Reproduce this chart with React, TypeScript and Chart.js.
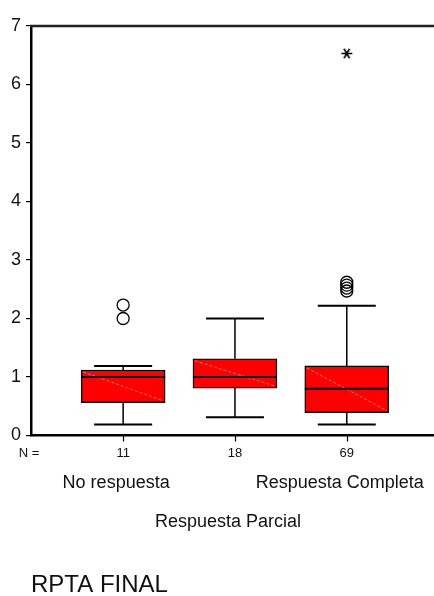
import React, { useEffect, useRef } from "react";
import { Chart, registerables } from "chart.js";

Chart.register(...registerables);

// Groups of RPTA FINAL and the number of cases in each
const groups = ["No respuesta", "Respuesta Parcial", "Respuesta Completa"];
const counts = [11, 18, 69];

// Five-number summaries per group
const whiskerLow = [0.19, 0.31, 0.19];
const q1 = [0.56, 0.81, 0.39];
const median = [1.0, 1.0, 0.8];
const q3 = [1.12, 1.31, 1.19];
const whiskerHigh = [1.19, 2.0, 2.22];

// Outliers (circles) and extreme values (asterisks)
const outliers = [[2.0, 2.23], [], [2.47, 2.52, 2.57, 2.62]];
const extremes = [[], [], [6.53]];

const yTicks = [0, 1, 2, 3, 4, 5, 6, 7];
const axisTitle = "RPTA FINAL";

const FONT = '"Liberation Sans", Arial, sans-serif';
const NARROW = '"Liberation Sans Narrow", "Liberation Sans", Arial, sans-serif';

function asteriskImage(): HTMLCanvasElement {
  const c = document.createElement("canvas");
  c.width = 13;
  c.height = 13;
  const g = c.getContext("2d")!;
  g.strokeStyle = "#000";
  g.lineWidth = 1.6;
  const r = 5.5;
  g.beginPath();
  for (const a of [0, Math.PI / 3, (2 * Math.PI) / 3]) {
    g.moveTo(6.5 - r * Math.cos(a), 6.5 - r * Math.sin(a));
    g.lineTo(6.5 + r * Math.cos(a), 6.5 + r * Math.sin(a));
  }
  g.stroke();
  return c;
}

const boxExtras = {
  id: "boxExtras",
  beforeDatasetsDraw(chart: any) {
    const { ctx, scales } = chart;
    const x = scales.x;
    const y = scales.y;
    ctx.save();
    ctx.strokeStyle = "#000";
    groups.forEach((_, i) => {
      const px = x.getPixelForValue(i + 1);
      ctx.lineWidth = 1.5;
      ctx.beginPath();
      ctx.moveTo(px, y.getPixelForValue(whiskerLow[i]));
      ctx.lineTo(px, y.getPixelForValue(q1[i]));
      ctx.moveTo(px, y.getPixelForValue(q3[i]));
      ctx.lineTo(px, y.getPixelForValue(whiskerHigh[i]));
      ctx.stroke();
      ctx.lineWidth = 2;
      ctx.beginPath();
      for (const v of [whiskerLow[i], whiskerHigh[i]]) {
        const py = y.getPixelForValue(v);
        ctx.moveTo(px - 29, py);
        ctx.lineTo(px + 29, py);
      }
      ctx.stroke();
    });
    ctx.restore();
  },
  afterDatasetsDraw(chart: any) {
    const { ctx, scales } = chart;
    const y = scales.y;
    const bars = chart.getDatasetMeta(0).data;
    ctx.save();
    bars.forEach((bar: any, i: number) => {
      const left = bar.x - bar.width / 2;
      const right = bar.x + bar.width / 2;
      const top = Math.min(bar.y, bar.base);
      const bottom = Math.max(bar.y, bar.base);
      // faint diagonal sheen across the box
      ctx.strokeStyle = "rgba(255,140,140,0.8)";
      ctx.lineWidth = 1;
      ctx.setLineDash([3, 2]);
      ctx.beginPath();
      ctx.moveTo(left + 2, top + 2);
      ctx.lineTo(right - 2, bottom - 2);
      ctx.stroke();
      ctx.setLineDash([]);
      // median
      ctx.strokeStyle = "#000";
      ctx.lineWidth = 2;
      const my = y.getPixelForValue(median[i]);
      ctx.beginPath();
      ctx.moveTo(left, my);
      ctx.lineTo(right, my);
      ctx.stroke();
    });
    ctx.restore();
  },
  afterDraw(chart: any) {
    const { ctx, chartArea, scales } = chart;
    const x = scales.x;
    ctx.save();
    // top frame line
    ctx.strokeStyle = "#222";
    ctx.lineWidth = 2.5;
    ctx.beginPath();
    ctx.moveTo(chartArea.left - 1, chartArea.top);
    ctx.lineTo(chartArea.right, chartArea.top);
    ctx.stroke();

    // category tick marks under the axis
    ctx.strokeStyle = "#000";
    ctx.lineWidth = 1.2;
    ctx.beginPath();
    groups.forEach((_, i) => {
      const px = Math.round(x.getPixelForValue(i + 1)) + 0.5;
      ctx.moveTo(px, chartArea.bottom);
      ctx.lineTo(px, chartArea.bottom + 6);
    });
    ctx.stroke();

    ctx.fillStyle = "#111";
    ctx.textBaseline = "middle";
    ctx.textAlign = "center";
    ctx.font = `13px ${NARROW}`;
    ctx.fillText("N =", 29, 453);
    counts.forEach((n, i) => {
      ctx.fillText(String(n), x.getPixelForValue(i + 1), 453);
    });
    ctx.font = `18px ${NARROW}`;
    groups.forEach((g, i) => {
      const row = i % 2 === 0 ? 483 : 522;
      ctx.fillText(g, x.getPixelForValue(i + 1) - 7, row);
    });
    ctx.textAlign = "left";
    ctx.font = `24px ${FONT}`;
    ctx.fillText(axisTitle, 31, 585);
    ctx.restore();
  },
};

export default function App() {
  const ref = useRef<HTMLCanvasElement | null>(null);

  useEffect(() => {
    if (!ref.current) return;
    const star = asteriskImage();
    const chart = new Chart(ref.current, {
      type: "bar",
      data: {
        datasets: [
          {
            type: "bar",
            data: groups.map((_, i) => ({ x: i + 1, y: [q1[i], q3[i]] })) as any,
            backgroundColor: "#ff0000",
            borderColor: "#000",
            borderWidth: 1.5,
            borderSkipped: false,
            barThickness: 84,
            grouped: false,
          } as any,
          {
            type: "scatter",
            data: outliers.flatMap((arr, i) => arr.map((v) => ({ x: i + 1, y: v }))),
            pointStyle: "circle",
            pointRadius: 6,
            pointBorderWidth: 1.3,
            pointBorderColor: "#000",
            pointBackgroundColor: "rgba(0,0,0,0)",
          } as any,
          {
            type: "scatter",
            data: extremes.flatMap((arr, i) => arr.map((v) => ({ x: i + 1, y: v }))),
            pointStyle: star,
            pointRadius: 6,
          } as any,
        ],
      },
      options: {
        animation: false,
        responsive: false,
        maintainAspectRatio: false,
        layout: { autoPadding: false, padding: { top: 26, right: 0, left: 0, bottom: 0 } },
        plugins: { legend: { display: false }, tooltip: { enabled: false } },
        scales: {
          x: {
            type: "linear",
            min: 0.176,
            max: 3.78,
            offset: false,
            afterBuildTicks: (s: any) => {
              s.ticks = [1, 2, 3].map((v) => ({ value: v }));
            },
            afterFit: (s: any) => {
              s.height = 160.5;
            },
            ticks: { display: false },
            grid: { display: false },
            border: { display: true, color: "#000", width: 2.5 },
          },
          y: {
            type: "linear",
            min: 0,
            max: 7,
            afterBuildTicks: (s: any) => {
              s.ticks = yTicks.map((v) => ({ value: v }));
            },
            afterFit: (s: any) => {
              s.width = 31;
            },
            ticks: {
              color: "#111",
              padding: 5,
              font: { family: FONT, size: 18 },
            },
            grid: {
              drawOnChartArea: false,
              drawTicks: true,
              tickLength: 5,
              color: "#000",
              lineWidth: 1.2,
            },
            border: { display: true, color: "#000", width: 2.5 },
          },
        },
      },
      plugins: [boxExtras],
    });
    return () => chart.destroy();
  }, []);

  return (
    <div style={{ position: "absolute", left: 0, top: 0, width: 434, height: 596, background: "#fff" }}>
      <canvas ref={ref} width={434} height={596} style={{ width: 434, height: 596, display: "block" }} />
    </div>
  );
}
